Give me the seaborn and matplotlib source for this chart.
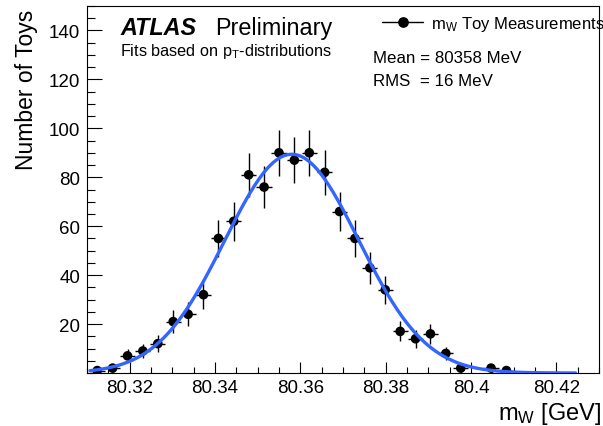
import numpy as np
import pandas as pd
import matplotlib
matplotlib.use('Agg')
import matplotlib.pyplot as plt
from matplotlib.lines import Line2D
from matplotlib.ticker import MultipleLocator
import seaborn as sns

# bin centres of the toy histogram (GeV) and entries per bin
mass_gev = [80.3124, 80.3160, 80.3195, 80.3231, 80.3266, 80.3302, 80.3337,
            80.3373, 80.3408, 80.3444, 80.3479, 80.3515, 80.3550, 80.3586,
            80.3621, 80.3657, 80.3692, 80.3728, 80.3763, 80.3799, 80.3834,
            80.3870, 80.3905, 80.3941, 80.3976, 80.4047, 80.4083]
n_toys = [1, 2, 7, 9, 12, 21, 24, 32, 55, 62, 81, 76, 90, 87,
          90, 82, 66, 55, 43, 34, 17, 14, 16, 8, 2, 2, 1]
bin_width = 0.00355

# gaussian fit parameters
fit_mean = 80.358
fit_sigma = 0.0157
fit_amp = 89.4
fit_lo, fit_hi = 80.3107, 80.4245

x_ticks = [80.32, 80.34, 80.36, 80.38, 80.40, 80.42]
x_tick_labels = ['80.32', '80.34', '80.36', '80.38', '80.4', '80.42']
y_ticks = [20, 40, 60, 80, 100, 120, 140]

sns.set_theme(style='white')
plt.rcParams['font.family'] = ['Liberation Sans', 'DejaVu Sans']
plt.rcParams['text.color'] = 'black'
plt.rcParams['axes.labelcolor'] = 'black'
plt.rcParams['mathtext.fontset'] = 'custom'
plt.rcParams['mathtext.rm'] = 'Liberation Sans'
plt.rcParams['mathtext.it'] = 'Liberation Sans:italic'
plt.rcParams['mathtext.bf'] = 'Liberation Sans:bold'

W, H = 603, 427
fig = plt.figure(figsize=(W / 100, H / 100), dpi=100)
ax = fig.add_axes([87 / W, 1 - 374 / H, 512 / W, 367 / H])

df = pd.DataFrame({'mass': mass_gev, 'toys': n_toys})
df['err'] = np.sqrt(df['toys'])

ax.errorbar(df['mass'], df['toys'], xerr=bin_width / 2, yerr=df['err'],
            fmt='none', ecolor='black', elinewidth=1.0, capsize=0, zorder=2)
sns.scatterplot(data=df, x='mass', y='toys', color='black', s=48,
                edgecolor='none', ax=ax, zorder=3, legend=False)

xs = np.linspace(fit_lo, fit_hi, 500)
ys = fit_amp * np.exp(-0.5 * ((xs - fit_mean) / fit_sigma) ** 2)
sns.lineplot(x=xs, y=ys, color='#3366ff', linewidth=2.4, ax=ax, zorder=4)

ax.set_xlim(80.31, 80.43)
ax.set_ylim(0, 150)
ax.set_xticks(x_ticks)
ax.set_xticklabels(x_tick_labels)
ax.set_yticks(y_ticks)
ax.xaxis.set_minor_locator(MultipleLocator(0.005))
ax.yaxis.set_minor_locator(MultipleLocator(5))
ax.tick_params(axis='both', which='both', direction='in', colors='black',
               labelsize=13.5, width=0.8, bottom=True, left=True)
ax.tick_params(axis='x', which='major', length=7.7, pad=4)
ax.tick_params(axis='x', which='minor', length=4.1)
ax.tick_params(axis='y', which='major', length=10.8, pad=5)
ax.tick_params(axis='y', which='minor', length=5.5)
for sp in ax.spines.values():
    sp.set_color('black')
    sp.set_linewidth(0.8)
ax.set_xlabel('')
ax.set_ylabel('')

# axis titles, ROOT style
fig.text(33 / W, 1 - 10 / H, 'Number of Toys', fontsize=16.5, rotation=90,
         rotation_mode='anchor', ha='right', va='baseline')
fig.text(601 / W, 1 - 420 / H, 'm$_\\mathrm{W}$ [GeV]', fontsize=17,
         ha='right', va='baseline')

# labels
fig.text(120 / W, 1 - 35 / H, 'ATLAS', fontsize=16.8, fontweight='bold',
         fontstyle='italic', va='baseline')
fig.text(215 / W, 1 - 35 / H, 'Preliminary', fontsize=16.8, va='baseline')
fig.text(120 / W, 1 - 56 / H, 'Fits based on p$_\\mathrm{T}$-distributions',
         fontsize=11.7, va='baseline')
fig.text(373 / W, 1 - 63 / H, 'Mean = 80358 MeV', fontsize=12.2, va='baseline')
fig.text(373 / W, 1 - 85.5 / H, 'RMS  = 16 MeV', fontsize=12.2, va='baseline')

handle = Line2D([], [], color='black', marker='o', markersize=6.7, linewidth=1.0)
ax.legend(handles=[handle], labels=['m$_\\mathrm{W}$ Toy Measurements'],
          loc='center left', bbox_to_anchor=(381.7 / W, 1 - 24 / H),
          bbox_transform=fig.transFigure, frameon=False, borderpad=0,
          borderaxespad=0, fontsize=12, handlelength=2.5, handletextpad=0.45,
          labelcolor='black')

fig.savefig('out.png', dpi=100)
